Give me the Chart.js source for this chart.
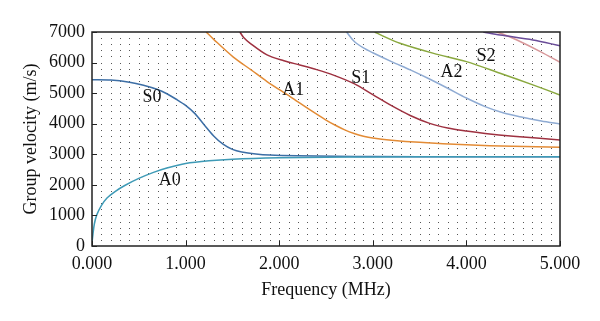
<!DOCTYPE html>
<html>
<head>
<meta charset="utf-8">
<script src="https://cdn.jsdelivr.net/npm/chart.js@4/dist/chart.umd.min.js"></script>
<style>
    html, body { margin: 0; padding: 0; background: #fff; }
    #wrap { width: 600px; height: 321px; }
</style>
</head>
<body>
<div id="wrap"><canvas id="chart" width="600" height="321"></canvas></div>
<script>
// Group velocity curves, [frequency MHz, velocity m/s]
const modeA0 = [[0, 100], [0.01, 380], [0.025, 720], [0.05, 1010], [0.1, 1320], [0.16, 1570], [0.25, 1790],
    [0.35, 1980], [0.5, 2210], [0.65, 2400], [0.8, 2550], [1.0, 2700], [1.25, 2790], [1.5, 2840],
    [2.0, 2885], [2.5, 2905], [3.0, 2915], [4.0, 2920], [5.0, 2920]];
const modeS0 = [[0, 5440], [0.2, 5430], [0.4, 5360], [0.55, 5260], [0.7, 5120], [0.8, 4980], [0.9, 4800],
    [1.0, 4600], [1.1, 4330], [1.2, 3960], [1.3, 3600], [1.4, 3330], [1.5, 3160], [1.6, 3075], [1.75, 3010],
    [1.9, 2975], [2.2, 2950], [2.6, 2935], [3.0, 2925], [4.0, 2920], [5.0, 2920]];
const modeA1 = [[1.22, 7000], [1.3, 6760], [1.51, 6180], [1.7, 5760], [1.87, 5380], [2.12, 4880], [2.33, 4450],
    [2.5, 4120], [2.6, 3950], [2.7, 3800], [2.8, 3680], [2.9, 3590], [3.0, 3530], [3.2, 3460], [3.5, 3390],
    [4.0, 3310], [4.5, 3260], [5.0, 3230]];
const modeS1 = [[1.58, 7000], [1.62, 6820], [1.69, 6630], [1.87, 6250], [2.05, 6060], [2.22, 5920], [2.4, 5770],
    [2.58, 5590], [2.8, 5310], [3.0, 4950], [3.2, 4590], [3.4, 4270], [3.6, 4020], [3.8, 3860], [4.0, 3760],
    [4.2, 3680], [4.5, 3590], [5.0, 3470]];
const modeA2 = [[2.72, 7000], [2.8, 6700], [2.9, 6480], [3.0, 6320], [3.2, 6030], [3.4, 5760], [3.6, 5470],
    [3.8, 5160], [4.0, 4840], [4.2, 4560], [4.4, 4350], [4.6, 4210], [4.8, 4090], [5.0, 3990]];
const modeS2 = [[3.02, 7000], [3.1, 6880], [3.29, 6630], [3.65, 6300], [4.0, 6030], [4.36, 5650], [4.71, 5270],
    [5.0, 4940]];
const modeS3 = [[4.18, 7000], [4.36, 6900], [4.71, 6740], [5.0, 6550]];
const modeA3 = [[4.32, 7000], [4.4, 6920], [4.54, 6740], [4.79, 6360], [5.0, 6010]];

const seriesList = [modeA0, modeS0, modeA1, modeS1, modeA2, modeS2, modeS3, modeA3];
const seriesColors = ['#3e9ab6', '#3c6ea5', '#e38b35', '#9e3140', '#8fabd3', '#8aa83f', '#6a4c98', '#d8989a'];

// Curve labels: [text, frequency, velocity]
const curveLabels = [['S0', 0.64, 4870], ['A0', 0.83, 2160], ['A1', 2.15, 5100], ['S1', 2.87, 5500],
    ['A2', 3.84, 5690], ['S2', 4.21, 6190]];

const xTicks = [0, 1, 2, 3, 4, 5];
const yTicks = [0, 1000, 2000, 3000, 4000, 5000, 6000, 7000];

const serif = "'Liberation Serif', 'DejaVu Serif', serif";

const decorPlugin = {
    id: 'decor',
    beforeDatasetsDraw(chart) {
        const { ctx } = chart;
        const xs = chart.scales.x, ys = chart.scales.y;
        ctx.save();
        ctx.fillStyle = '#555';
        for (let i = 1; i < 50; i++) {
            const px = Math.round(xs.getPixelForValue(i / 10));
            for (let j = 1; j < 35; j++) {
                const py = Math.round(ys.getPixelForValue(j * 200));
                ctx.fillRect(px, py, 1, 1);
            }
        }
        ctx.restore();
    },
    afterDatasetsDraw(chart) {
        const { ctx, chartArea } = chart;
        const xs = chart.scales.x, ys = chart.scales.y;
        ctx.save();
        ctx.strokeStyle = '#222';
        ctx.lineWidth = 1.5;
        ctx.strokeRect(chartArea.left, chartArea.top, chartArea.right - chartArea.left, chartArea.bottom - chartArea.top);
        ctx.lineWidth = 1;
        ctx.beginPath();
        xTicks.forEach(v => {
            const px = Math.round(xs.getPixelForValue(v)) + 0.5;
            ctx.moveTo(px, chartArea.bottom);
            ctx.lineTo(px, chartArea.bottom - 5);
        });
        yTicks.forEach(v => {
            const py = Math.round(ys.getPixelForValue(v)) + 0.5;
            ctx.moveTo(chartArea.left, py);
            ctx.lineTo(chartArea.left + 5, py);
        });
        ctx.stroke();

        ctx.fillStyle = '#111';
        ctx.font = '18px ' + serif;
        ctx.textAlign = 'center';
        ctx.textBaseline = 'middle';
        curveLabels.forEach(([txt, f, v]) => {
            ctx.fillText(txt, xs.getPixelForValue(f), ys.getPixelForValue(v));
        });
        ctx.restore();
    }
};

new Chart(document.getElementById('chart'), {
    type: 'line',
    data: {
        datasets: seriesList.map((s, i) => ({
            data: s.map(p => ({ x: p[0], y: p[1] })),
            borderColor: seriesColors[i],
            borderWidth: 1.5,
            pointRadius: 0,
            tension: 0.3,
            fill: false
        }))
    },
    options: {
        responsive: false,
        animation: false,
        layout: { padding: { top: 32, right: 40, left: 0, bottom: 0 } },
        plugins: { legend: { display: false }, tooltip: { enabled: false } },
        scales: {
            x: {
                type: 'linear',
                min: 0,
                max: 5,
                afterFit(scale) { scale.height = 75; },
                afterBuildTicks(scale) { scale.ticks = xTicks.map(v => ({ value: v })); },
                grid: { display: false, drawTicks: false },
                border: { display: false },
                ticks: {
                    color: '#111',
                    padding: 7,
                    maxRotation: 0,
                    font: { family: serif, size: 18 },
                    callback: v => v.toFixed(3)
                },
                title: {
                    display: true,
                    text: 'Frequency (MHz)',
                    color: '#111',
                    font: { family: serif, size: 18 },
                    padding: { top: 0, bottom: 20 }
                }
            },
            y: {
                min: 0,
                max: 7000,
                afterFit(scale) { scale.width = 92; },
                afterBuildTicks(scale) { scale.ticks = yTicks.map(v => ({ value: v })); },
                grid: { display: false, drawTicks: false },
                border: { display: false },
                ticks: {
                    color: '#111',
                    padding: 7,
                    font: { family: serif, size: 18 },
                    callback: v => String(v)
                },
                title: {
                    display: true,
                    text: 'Group velocity (m/s)',
                    color: '#111',
                    font: { family: serif, size: 18 },
                    padding: { top: 20, bottom: 0 }
                }
            }
        }
    },
    plugins: [decorPlugin]
});
</script>
</body>
</html>
